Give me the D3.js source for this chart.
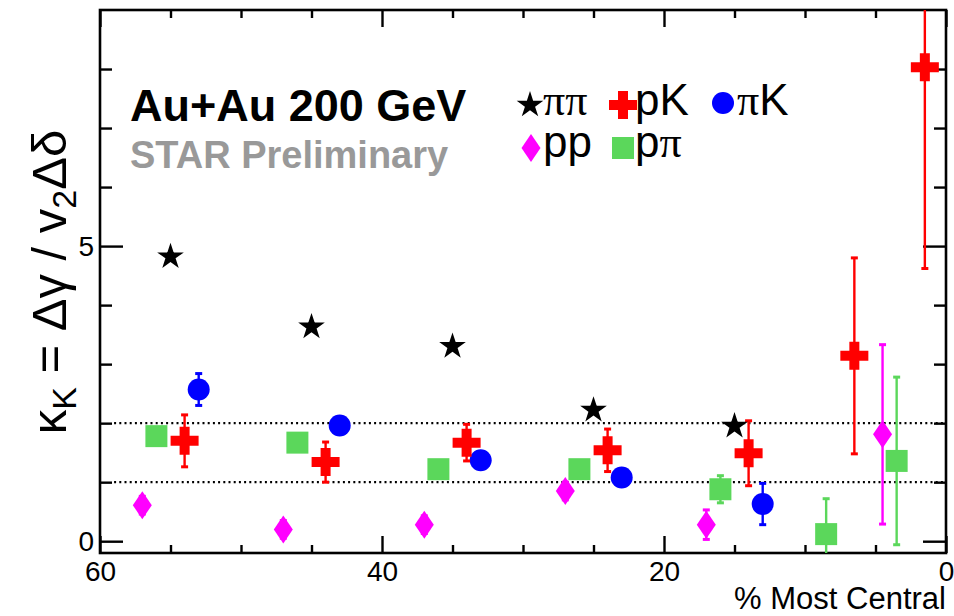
<!DOCTYPE html>
<html>
<head>
<meta charset="utf-8">
<script src="https://cdn.jsdelivr.net/npm/d3@7"></script>
<style>
  html, body { margin: 0; padding: 0; background: #fff; }
  svg { display: block; font-family: "Liberation Sans", Arial, Helvetica, sans-serif; }
</style>
</head>
<body>
<svg id="chart" width="954" height="616"></svg>
<script>
// ---------- data ----------
const ppiX   = [55, 45, 35, 25, 15];
const ppiY   = [4.82, 3.63, 3.30, 2.22, 1.95];
const ppiErr = [0.05, 0.05, 0.05, 0.05, 0.05];

const pKX   = [54, 44, 34, 24, 14, 6.5, 1.5];
const pKY   = [1.70, 1.34, 1.67, 1.54, 1.49, 3.14, 8.03];
const pKErr = [0.44, 0.34, 0.31, 0.36, 0.55, 1.66, 3.41];

const piKX   = [53, 43, 33, 23, 13];
const piKY   = [2.57, 1.96, 1.37, 1.08, 0.63];
const piKErr = [0.27, 0.12, 0.12, 0.12, 0.35];

const ppX   = [57, 47, 37, 27, 17, 4.5];
const ppY   = [0.61, 0.20, 0.28, 0.85, 0.28, 1.81];
const ppErr = [0.15, 0.15, 0.15, 0.15, 0.25, 1.52];

const pPiX   = [56, 46, 36, 26, 16, 8.5, 3.5];
const pPiY   = [1.78, 1.67, 1.22, 1.22, 0.88, 0.12, 1.36];
const pPiErr = [0.10, 0.10, 0.10, 0.10, 0.23, 0.60, 1.42];

const xMajorTicks = [60, 40, 20, 0];
const xMinorTicks = [55, 50, 45, 35, 30, 25, 15, 10, 5];
const yMajorTicks = [0, 5];
const yMinorTicks = [1, 2, 3, 4, 6, 7, 8];
const refLines = [1, 2];

// ---------- layout ----------
const svg = d3.select("#chart");
const L = 100, R = 946, T = 10, B = 553;
const x = d3.scaleLinear().domain([60, 0]).range([L, R]);
const y = d3.scaleLinear().domain([-0.2, 9]).range([B, T]);

const COL = { star: "#000000", pK: "#ff0000", piK: "#0000ff", pp: "#ff00ff", pPi: "#5bd75b" };

// marker shape generators (centered at 0,0)
function starPath(Ro) {
  const Ri = Ro * 0.382; let p = [];
  for (let i = 0; i < 10; i++) {
    const r = i % 2 === 0 ? Ro : Ri;
    const a = -Math.PI / 2 + i * Math.PI / 5;
    p.push([r * Math.cos(a), r * Math.sin(a)]);
  }
  return "M" + p.map(d => d.join(",")).join("L") + "Z";
}
function crossPath(a, t) {
  return `M${-t},${-a}H${t}V${-t}H${a}V${t}H${t}V${a}H${-t}V${t}H${-a}V${-t}H${-t}Z`;
}
function diamondPath(w, h) { return `M0,${-h}L${w},0L0,${h}L${-w},0Z`; }
function squarePath(s) { return `M${-s},${-s}H${s}V${s}H${-s}Z`; }
function circlePath(r) { return `M${r},0A${r},${r} 0 1,1 ${-r},0A${r},${r} 0 1,1 ${r},0Z`; }

const shapes = {
  star: starPath(14),
  pK: crossPath(14, 5),
  piK: circlePath(11),
  pp: diamondPath(9.5, 14),
  pPi: squarePath(11)
};

// clip
svg.append("defs").append("clipPath").attr("id", "plotclip")
  .append("rect").attr("x", L).attr("y", T).attr("width", R - L).attr("height", B - T);

// reference dotted lines
svg.append("g").selectAll("line").data(refLines).join("line")
  .attr("x1", x(59)).attr("x2", x(0))
  .attr("y1", d => y(d)).attr("y2", d => y(d))
  .attr("stroke", "#000").attr("stroke-width", 2.2).attr("stroke-dasharray", "2,3.2");

// axes (ticks inward, mirrored)
function styleAxis(g) {
  g.select(".domain").remove();
  g.selectAll(".tick line").attr("stroke", "#000").attr("stroke-width", 2.4);
  g.selectAll("text").attr("fill", "#000").attr("font-size", 28);
}
svg.append("g").attr("transform", `translate(0,${B})`)
  .call(d3.axisBottom(x).tickValues(xMajorTicks).tickSize(-17).tickPadding(8).tickFormat(d3.format("d")))
  .call(styleAxis);
svg.append("g").attr("transform", `translate(0,${B})`)
  .call(d3.axisBottom(x).tickValues(xMinorTicks).tickSize(-8).tickFormat(""))
  .call(styleAxis);
svg.append("g").attr("transform", `translate(0,${T})`)
  .call(d3.axisTop(x).tickValues(xMajorTicks).tickSize(-17).tickFormat(""))
  .call(styleAxis);
svg.append("g").attr("transform", `translate(0,${T})`)
  .call(d3.axisTop(x).tickValues(xMinorTicks).tickSize(-8).tickFormat(""))
  .call(styleAxis);
svg.append("g").attr("transform", `translate(${L},0)`)
  .call(d3.axisLeft(y).tickValues(yMajorTicks).tickSize(-23).tickPadding(6).tickFormat(d3.format("d")))
  .call(styleAxis);
svg.append("g").attr("transform", `translate(${L},0)`)
  .call(d3.axisLeft(y).tickValues(yMinorTicks).tickSize(-12).tickFormat(""))
  .call(styleAxis);
svg.append("g").attr("transform", `translate(${R},0)`)
  .call(d3.axisRight(y).tickValues(yMajorTicks).tickSize(-23).tickFormat(""))
  .call(styleAxis);
svg.append("g").attr("transform", `translate(${R},0)`)
  .call(d3.axisRight(y).tickValues(yMinorTicks).tickSize(-12).tickFormat(""))
  .call(styleAxis);

// frame
svg.append("rect").attr("x", L).attr("y", T).attr("width", R - L).attr("height", B - T)
  .attr("fill", "none").attr("stroke", "#000").attr("stroke-width", 2.6);

// series
const series = [
  { key: "pPi", xs: pPiX, ys: pPiY, es: pPiErr },
  { key: "pp",  xs: ppX,  ys: ppY,  es: ppErr },
  { key: "piK", xs: piKX, ys: piKY, es: piKErr },
  { key: "pK",  xs: pKX,  ys: pKY,  es: pKErr },
  { key: "star", xs: ppiX, ys: ppiY, es: ppiErr }
];
const plot = svg.append("g").attr("clip-path", "url(#plotclip)");
series.forEach(s => {
  const pts = s.xs.map((v, i) => ({ x: v, y: s.ys[i], e: s.es[i] }));
  const g = plot.append("g");
  g.selectAll("line.err").data(pts).join("line").attr("class", "err")
    .attr("x1", d => x(d.x)).attr("x2", d => x(d.x))
    .attr("y1", d => y(d.y - d.e)).attr("y2", d => y(d.y + d.e))
    .attr("stroke", COL[s.key]).attr("stroke-width", 2.4);
  ["lo", "hi"].forEach(side => {
    g.selectAll("line.cap" + side).data(pts).join("line").attr("class", "cap" + side)
      .attr("x1", d => x(d.x) - 3.5).attr("x2", d => x(d.x) + 3.5)
      .attr("y1", d => y(side === "lo" ? d.y - d.e : d.y + d.e))
      .attr("y2", d => y(side === "lo" ? d.y - d.e : d.y + d.e))
      .attr("stroke", COL[s.key]).attr("stroke-width", 3);
  });
  g.selectAll("path.mk").data(pts).join("path").attr("class", "mk")
    .attr("d", shapes[s.key])
    .attr("transform", d => `translate(${x(d.x)},${y(d.y)})`)
    .attr("fill", COL[s.key]);
});

// texts
svg.append("text").attr("x", 130).attr("y", 121)
  .attr("font-size", 45).attr("font-weight", "bold").attr("fill", "#000")
  .text("Au+Au 200 GeV");
svg.append("text").attr("x", 130).attr("y", 168)
  .attr("font-size", 38).attr("font-weight", "bold").attr("fill", "#999999")
  .text("STAR Preliminary");

// legend
const legendItems = [
  { key: "star", mx: 530, my: 105, tx: 543, ty: 115, parts: [["ππ", true]] },
  { key: "pK",   mx: 623, my: 105, tx: 635, ty: 115, parts: [["pK", false]] },
  { key: "piK",  mx: 723, my: 103, tx: 737, ty: 115, parts: [["π", true], ["K", false]] },
  { key: "pp",   mx: 531, my: 148, tx: 543, ty: 157, parts: [["pp", false]] },
  { key: "pPi",  mx: 623, my: 148, tx: 635, ty: 157, parts: [["p", false], ["π", true]] }
];
const lg = svg.append("g");
legendItems.forEach(it => {
  lg.append("path").attr("d", shapes[it.key])
    .attr("transform", `translate(${it.mx},${it.my})`).attr("fill", COL[it.key]);
  const t = lg.append("text").attr("x", it.tx).attr("y", it.ty).attr("font-size", 44).attr("fill", "#000");
  it.parts.forEach(p => {
    t.append("tspan").attr("font-family", p[1] ? "'Liberation Serif', 'DejaVu Serif', serif" : null).text(p[0]);
  });
});

// axis titles
svg.append("text").attr("x", R).attr("y", 609).attr("text-anchor", "end")
  .attr("font-size", 31).attr("fill", "#000").text("% Most Central");

const yt = svg.append("text")
  .attr("transform", "translate(66,282) rotate(-90)")
  .attr("text-anchor", "middle").attr("font-size", 49).attr("fill", "#000");
yt.append("tspan").text("κ");
yt.append("tspan").attr("font-size", 34).attr("dy", 10).text("K");
yt.append("tspan").attr("dy", -10).text(" = Δγ / v");
yt.append("tspan").attr("font-size", 34).attr("dy", 10).text("2");
yt.append("tspan").attr("dy", -10).text("Δδ");
</script>
</body>
</html>
